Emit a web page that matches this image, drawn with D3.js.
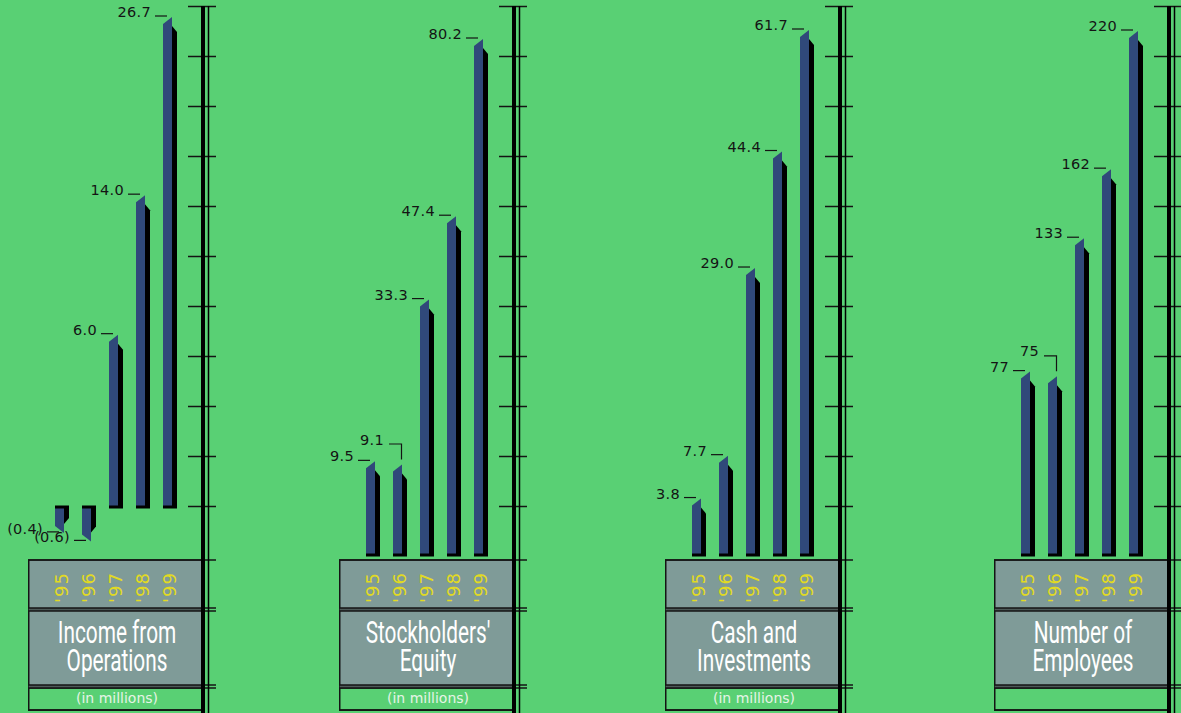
<!DOCTYPE html>
<html>
<head>
<meta charset="utf-8">
<script src="https://cdn.jsdelivr.net/npm/d3@7"></script>
<style>
  html, body { margin: 0; padding: 0; background: #59d074; overflow: hidden; }
  svg { display: block; }
</style>
</head>
<body>
<script>
// chart data
const years = ["'95", "'96", "'97", "'98", "'99"]
const incomeFromOperations = [-0.4, -0.6, 6.0, 14.0, 26.7]
const stockholdersEquity = [9.5, 9.1, 33.3, 47.4, 80.2]
const cashAndInvestments = [3.8, 7.7, 29.0, 44.4, 61.7]
const numberOfEmployees = [77, 75, 133, 162, 220]
const titles = [['Income from', 'Operations'], ["Stockholders'", 'Equity'], ['Cash and', 'Investments'], ['Number of', 'Employees']]
const units = ['(in millions)', '(in millions)', '(in millions)', '']

const oneDecimal = v => v < 0 ? '(' + d3.format('.1f')(-v) + ')' : d3.format('.1f')(v)

// layout of the four panels
const panels = [
    {left: 28, base: 507, top: 17, exponent: 0.7, values: incomeFromOperations, fmt: oneDecimal},
    {left: 339, base: 555, top: 39, exponent: 0.8, values: stockholdersEquity, fmt: oneDecimal},
    {left: 665, base: 555, top: 30, exponent: 0.8, values: cashAndInvestments, fmt: oneDecimal},
    {left: 994, base: 555, top: 31, exponent: 1, values: numberOfEmployees, fmt: d3.format('d')},
]

const BLUE = '#30497a'
const GRAY = '#7f9b98'
const YELLOW = '#e2da22'
const INK = '#141414'

const svg = d3.select('body')
    .append('svg')
    .attr('width', 1181)
    .attr('height', 713)

const x = d3.scalePoint()
    .domain(years)
    .range([27, 135])

panels.forEach((p, pi) => {
    const g = svg.append('g')
        .attr('transform', `translate(${p.left} 0)`)

    const len = d3.scalePow()
        .exponent(p.exponent)
        .domain([0, d3.max(p.values)])
        .range([0, p.base - p.top])

    const ends = p.values.map(v => v >= 0 ? p.base - len(v) : p.base + len(-v))

    // box under the bars
    g.append('rect')
        .attr('x', 0.75).attr('y', 560)
        .attr('width', 173).attr('height', 150)
        .attr('fill', GRAY)
        .attr('stroke', INK)
        .attr('stroke-width', 1.5)
    g.append('rect')
        .attr('x', 0.75).attr('y', 688)
        .attr('width', 173).attr('height', 22)
        .attr('fill', '#59d074')
        .attr('stroke', INK)
        .attr('stroke-width', 1.5)
    ;[608, 685].forEach(yy => {
        g.append('rect')
            .attr('x', 0.75).attr('y', yy)
            .attr('width', 173).attr('height', 3)
            .attr('fill', '#4d5a58')
    })

    // ticks on the right
    const tickYs = d3.range(11).map(i => 6.5 + i * 50)
    g.selectAll('line.tick')
        .data(tickYs)
        .enter()
        .append('line')
        .attr('class', 'tick')
        .attr('x1', 160).attr('x2', 188)
        .attr('y1', d => d).attr('y2', d => d)
        .attr('stroke', INK)
        .attr('stroke-width', 1.5)
    g.selectAll('line.boxline')
        .data([560, 608, 611, 685, 688])
        .enter()
        .append('line')
        .attr('class', 'boxline')
        .attr('x1', 0).attr('x2', 188)
        .attr('y1', d => d).attr('y2', d => d)
        .attr('stroke', INK)
        .attr('stroke-width', 1.5)
    g.append('line')
        .attr('x1', 0).attr('x2', 176)
        .attr('y1', 710).attr('y2', 710)
        .attr('stroke', INK)
        .attr('stroke-width', 1.5)

    // vertical rules
    g.append('rect')
        .attr('x', 173).attr('y', 6)
        .attr('width', 4).attr('height', 707)
        .attr('fill', '#000')
    g.append('line')
        .attr('x1', 180.5).attr('x2', 180.5)
        .attr('y1', 6).attr('y2', 713)
        .attr('stroke', '#000')
        .attr('stroke-width', 1.5)

    // bars
    const b = p.base
    const bars = g.selectAll('g.bar')
        .data(p.values)
        .enter()
        .append('g')
        .attr('class', 'bar')

    bars.each(function(v, i) {
        const x0 = x(years[i])
        const e = ends[i]
        const el = d3.select(this)
        if(v >= 0) {
            el.append('path')
                .attr('d', `M${x0},${b} L${x0},${e + 7} L${x0 + 9},${e} L${x0 + 9},${b} Z`)
                .attr('fill', BLUE)
            el.append('path')
                .attr('d', `M${x0 + 9},${b} L${x0 + 9},${e + 9} L${x0 + 14},${e + 15} L${x0 + 14},${b} Z`)
                .attr('fill', '#000')
        }
        else {
            el.append('path')
                .attr('d', `M${x0},${b} L${x0 + 9},${b} L${x0 + 9},${e} L${x0},${e - 7} Z`)
                .attr('fill', BLUE)
            el.append('path')
                .attr('d', `M${x0 + 9},${b} L${x0 + 14},${b} L${x0 + 14},${Math.max(b, e - 15)} L${x0 + 9},${Math.max(b, e - 9)} Z`)
                .attr('fill', '#000')
        }
        el.append('rect')
            .attr('x', x0).attr('y', b - 1.5)
            .attr('width', 14).attr('height', 3)
            .attr('fill', '#000')

        // value label: raised with a bracket when the previous bar stands higher
        const bracket = i > 0 && v >= 0 && p.values[i - 1] >= 0 && ends[i - 1] < e + 6
        const label = el.append('text')
            .text(p.fmt(v))
            .attr('font-family', 'DejaVu Sans, sans-serif')
            .attr('font-size', 14.5)
            .attr('letter-spacing', 0.3)
            .attr('fill', INK)
            .attr('text-anchor', 'end')
        if(bracket) {
            label.attr('x', x0 - 9).attr('y', e - 20)
            el.append('path')
                .attr('d', `M${x0 - 4},${e - 20.5} H${x0 + 8.5} V${e - 5}`)
                .attr('fill', 'none')
                .attr('stroke', INK)
                .attr('stroke-width', 1.2)
        }
        else {
            label.attr('x', x0 - 12).attr('y', v >= 0 ? e : e + 1)
            el.append('line')
                .attr('x1', x0 - 8).attr('x2', x0 + 4)
                .attr('y1', e - 1).attr('y2', e - 1)
                .attr('stroke', INK)
                .attr('stroke-width', 1.2)
        }

        // year label, rotated
        el.append('text')
            .text(years[i])
            .attr('transform', `translate(${x0 + 13} 603) rotate(-90)`)
            .attr('font-family', 'DejaVu Sans, sans-serif')
            .attr('font-size', 18)
            .attr('letter-spacing', 1)
            .attr('fill', YELLOW)
    })

    // two-line title in one text element
    const title = g.append('text')
        .attr('transform', 'translate(89 643) scale(0.65 1)')
        .attr('text-anchor', 'middle')
        .attr('font-family', 'Roboto, sans-serif')
        .attr('font-size', 32)
        .attr('fill', '#fff')
    titles[pi].forEach((t, li) => {
        title.append('tspan')
            .attr('x', 0)
            .attr('dy', li === 0 ? 0 : 28)
            .text(t)
    })

    g.append('text')
        .text(units[pi])
        .attr('x', 89).attr('y', 703)
        .attr('text-anchor', 'middle')
        .attr('font-family', 'DejaVu Sans, sans-serif')
        .attr('font-size', 14)
        .attr('fill', '#e6f4e6')
})
</script>
</body>
</html>
